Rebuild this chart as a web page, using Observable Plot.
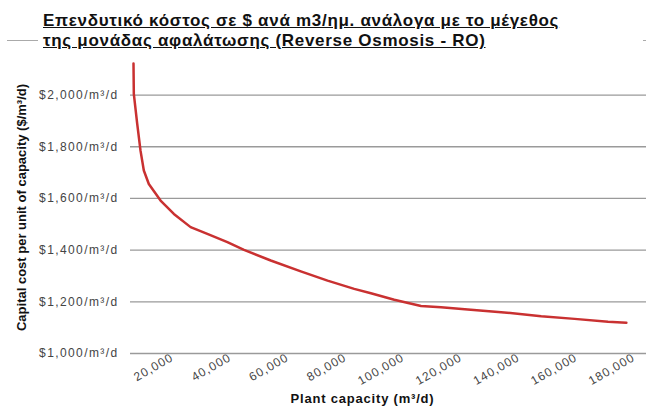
<!DOCTYPE html>
<html>
<head>
<meta charset="utf-8">
<script src="https://cdn.jsdelivr.net/npm/d3@7"></script>
<script src="https://cdn.jsdelivr.net/npm/@observablehq/plot@0.6"></script>
<style>
  html, body { margin: 0; padding: 0; background: #fff; }
  #wrap { position: relative; width: 646px; height: 407px; overflow: hidden; font-family: "Liberation Sans", Arial, sans-serif; }
  #title { position: relative; height: 56px; }
  #title .t { position: absolute; left: 43px; font-weight: bold; font-size: 17px; letter-spacing: 0.7px; text-decoration: underline; color: #111; white-space: nowrap; line-height: 20px; }
  #title .deco { position: absolute; height: 1px; background: #aaa; }
</style>
</head>
<body>
<div id="wrap">
  <div id="title">
    <div class="deco" style="left:7px; top:40px; width:31px;"></div>
    <div class="deco" style="left:643px; top:40px; width:3px;"></div>
    <div class="t" style="top:11px;">Επενδυτικό κόστος σε $ ανά m3/ημ. ανάλογα με το μέγεθος</div>
    <div class="t" style="top:31px;">της μονάδας αφαλάτωσης (Reverse Osmosis - RO)</div>
  </div>
  <div id="chart"></div>
</div>
<script>
const capacity = [6560, 6670, 7850, 8990, 10140, 11870, 15940, 20550, 26350, 32150, 39100, 44860, 54130, 64550, 73820, 83060, 88850, 96940, 106210, 113160, 122430, 133990, 147880, 159450, 171040, 177400];
const cost = [2122, 2005, 1889, 1785, 1708, 1656, 1592, 1540, 1489, 1463, 1431, 1401, 1360, 1318, 1282, 1250, 1233, 1208, 1184, 1179, 1170, 1160, 1144, 1134, 1123, 1119];
const xTicks = [20000, 40000, 60000, 80000, 100000, 120000, 140000, 160000, 180000];
const yTicks = [1000, 1200, 1400, 1600, 1800, 2000];
const xTitle = "Plant capacity (m³/d)";
const yTitle = "Capital cost per unit of capacity ($/m³/d)";

const data = capacity.map((c, i) => ({capacity: c, cost: cost[i]}));
const fmt = d3.format(",");

const chart = Plot.plot({
  width: 646,
  height: 351,
  marginLeft: 130,
  marginRight: 0,
  marginTop: 5,
  marginBottom: 54,
  style: {fontFamily: "'Liberation Sans', Arial, sans-serif", background: "#fff"},
  x: {domain: [5520, 184375]},
  y: {domain: [1000, 2130]},
  marks: [
    Plot.gridY(yTicks, {stroke: "#9a9a9a", strokeOpacity: 1, strokeWidth: 1.3}),
    Plot.axisY(yTicks, {
      tickSize: 0, tickPadding: 12, fontSize: 12, fill: "#444",
      tickFormat: d => "$" + fmt(d) + "/m³/d",
      label: yTitle, labelAnchor: "center", labelArrow: "none", labelOffset: 114
    }),
    Plot.axisX(xTicks, {
      tickSize: 0, tickPadding: 3, tickRotate: -30, fontSize: 12, fill: "#444",
      tickFormat: d => fmt(d),
      label: null
    }),
    Plot.text([xTitle], {frameAnchor: "bottom", dx: -26, dy: 49, text: d => d, fontWeight: "bold", fontSize: 13, fill: "#111"}),
    Plot.line(data, {x: "capacity", y: "cost", stroke: "#c93131", strokeWidth: 2.5, curve: "linear"})
  ]
});
document.getElementById("chart").appendChild(chart);
chart.querySelectorAll("g[aria-label='y-axis label'] text").forEach(t => {
  t.setAttribute("font-weight", "bold");
  t.setAttribute("font-size", "13");
  t.setAttribute("fill", "#111");
});
chart.querySelectorAll("g[aria-label='y-axis tick label']").forEach(g => g.style.letterSpacing = "1.4px");
chart.querySelectorAll("g[aria-label='x-axis tick label']").forEach(g => g.style.letterSpacing = "1.1px");
chart.querySelectorAll("g[aria-label='text']").forEach(g => g.style.letterSpacing = "0.8px");
</script>
</body>
</html>
